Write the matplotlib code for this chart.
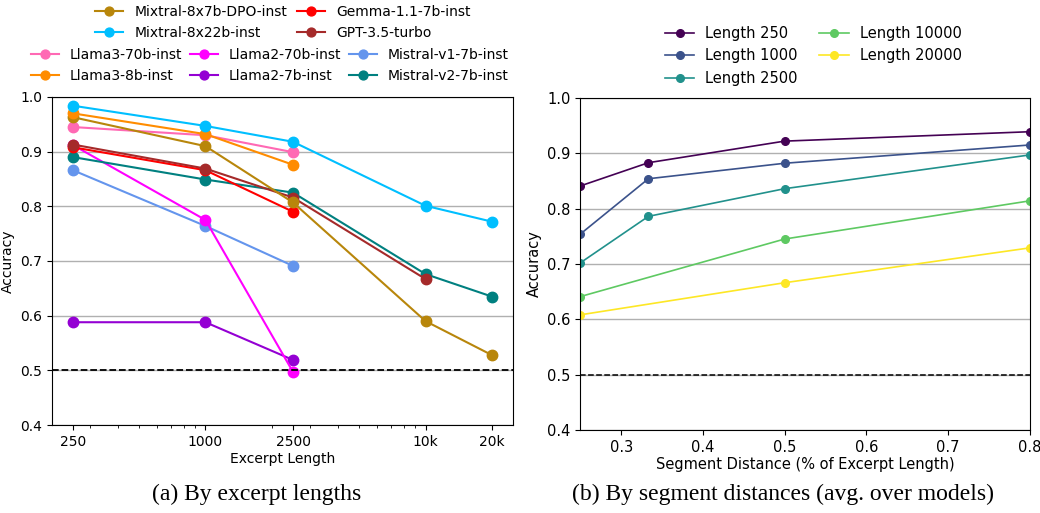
import numpy as np
import matplotlib
matplotlib.use("Agg")
from matplotlib import pyplot as plt
from matplotlib.ticker import FixedLocator, FixedFormatter

# ---- (a) accuracy by excerpt length ----
LENGTHS = [250, 1000, 2500, 10000, 20000]

MIXTRAL_7B_DPO = [0.963, 0.910, 0.807, 0.590, 0.528]
MIXTRAL_22B = [0.984, 0.947, 0.918, 0.801, 0.772]
GEMMA = [0.908, 0.866, 0.790]
GPT35 = [0.913, 0.869, 0.816, 0.667]
LLAMA3_70B = [0.945, 0.930, 0.899]
LLAMA3_8B = [0.970, 0.932, 0.876]
LLAMA2_70B = [0.912, 0.775, 0.497]
LLAMA2_7B = [0.588, 0.588, 0.519]
MISTRAL_V1 = [0.866, 0.764, 0.691]
MISTRAL_V2 = [0.890, 0.849, 0.825, 0.676, 0.635]

LEGEND_TOP = [
    ("Mixtral-8x7b-DPO-inst", MIXTRAL_7B_DPO, "darkgoldenrod"),
    ("Mixtral-8x22b-inst", MIXTRAL_22B, "deepskyblue"),
    ("Gemma-1.1-7b-inst", GEMMA, "red"),
    ("GPT-3.5-turbo", GPT35, "brown"),
]
LEGEND_BOTTOM = [
    ("Llama3-70b-inst", LLAMA3_70B, "hotpink"),
    ("Llama3-8b-inst", LLAMA3_8B, "darkorange"),
    ("Llama2-70b-inst", LLAMA2_70B, "magenta"),
    ("Llama2-7b-inst", LLAMA2_7B, "darkviolet"),
    ("Mistral-v1-7b-inst", MISTRAL_V1, "cornflowerblue"),
    ("Mistral-v2-7b-inst", MISTRAL_V2, "teal"),
]
# drawing order (later = on top)
DRAW_ORDER = ["Llama2-7b-inst", "Mistral-v1-7b-inst", "Llama2-70b-inst", "Mistral-v2-7b-inst",
              "Gemma-1.1-7b-inst", "GPT-3.5-turbo", "Llama3-70b-inst", "Mixtral-8x7b-DPO-inst",
              "Llama3-8b-inst", "Mixtral-8x22b-inst"]

# ---- (b) accuracy by segment distance ----
DIST_250 = [0.25, 1 / 3, 0.5, 0.8]
ACC_250 = [0.841, 0.883, 0.922, 0.939]
DIST_1000 = [0.25, 1 / 3, 0.5, 0.8]
ACC_1000 = [0.754, 0.854, 0.882, 0.915]
DIST_2500 = [0.25, 1 / 3, 0.5, 0.8]
ACC_2500 = [0.702, 0.786, 0.836, 0.897]
DIST_10000 = [0.25, 0.5, 0.8]
ACC_10000 = [0.641, 0.745, 0.814]
DIST_20000 = [0.25, 0.5, 0.8]
ACC_20000 = [0.608, 0.666, 0.729]

SEGMENT_SERIES = [
    ("Length 250", DIST_250, ACC_250, "#440154"),
    ("Length 1000", DIST_1000, ACC_1000, "#3b528b"),
    ("Length 2500", DIST_2500, ACC_2500, "#21918c"),
    ("Length 10000", DIST_10000, ACC_10000, "#5ec962"),
    ("Length 20000", DIST_20000, ACC_20000, "#fde725"),
]

FONT = 10
plt.rcParams.update({"font.family": "DejaVu Sans", "font.size": FONT})

fig = plt.figure(figsize=(10.4, 5.13), dpi=100)
ax1 = fig.add_axes([0.050, 0.1715, 0.443, 0.6395])
ax2 = fig.add_axes([0.558, 0.162, 0.432, 0.647])

# ---- left panel ----
all_series = {name: (vals, col) for name, vals, col in LEGEND_TOP + LEGEND_BOTTOM}
handles = {}
for name in DRAW_ORDER:
    vals, col = all_series[name]
    h, = ax1.plot(LENGTHS[:len(vals)], vals, "-o", color=col, lw=1.5, ms=7.5, label=name)
    handles[name] = h

ax1.axhline(0.5, color="black", ls="--", lw=1.3)
ax1.set_xscale("log")
ax1.set_ylim(0.4, 1.0)
ax1.xaxis.set_major_locator(FixedLocator(LENGTHS))
ax1.xaxis.set_major_formatter(FixedFormatter(["250", "1000", "2500", "10k", "20k"]))
ax1.grid(True, axis="y", color="#b0b0b0", lw=1)
ax1.set_axisbelow(True)
ax1.set_xlabel("Excerpt Length", fontsize=FONT, labelpad=2)
ax1.set_ylabel("Accuracy", fontsize=FONT)

leg_kw = dict(frameon=False, loc="center", fontsize=FONT, handlelength=2.0,
              handletextpad=0.8, markerscale=0.85)
fig.legend([handles[n] for n, _, _ in LEGEND_TOP], [n for n, _, _ in LEGEND_TOP],
           ncol=2, bbox_to_anchor=(0.272, 0.957), columnspacing=0.7, **leg_kw)
fig.legend([handles[n] for n, _, _ in LEGEND_BOTTOM], [n for n, _, _ in LEGEND_BOTTOM],
           ncol=3, bbox_to_anchor=(0.2596, 0.873), columnspacing=0.55, **leg_kw)

# ---- right panel ----
for name, xs, ys, col in SEGMENT_SERIES:
    ax2.plot(xs, ys, "-o", color=col, lw=1.2, ms=5.5, label=name)
ax2.axhline(0.5, color="black", ls="--", lw=1.1)
ax2.set_xlim(0.25, 0.8)
ax2.set_ylim(0.4, 1.0)
ax2.set_xticks([0.3, 0.4, 0.5, 0.6, 0.7, 0.8])
ax2.grid(True, axis="y", color="#b0b0b0", lw=1)
ax2.set_axisbelow(True)
ax2.tick_params(labelsize=FONT + 0.5)
ax2.set_xlabel("Segment Distance (% of Excerpt Length)", fontsize=FONT + 0.5, labelpad=2)
ax2.set_ylabel("Accuracy", fontsize=FONT + 0.5)
fig.legend(*ax2.get_legend_handles_labels(), ncol=2, frameon=False, loc="center",
           bbox_to_anchor=(0.782, 0.891), fontsize=FONT + 0.5, handlelength=2.0,
           columnspacing=1.5, handletextpad=0.75)

# captions
fig.text(0.247, 0.037, "(a) By excerpt lengths", ha="center", va="center",
         family="Liberation Serif", fontsize=17)
fig.text(0.753, 0.037, "(b) By segment distances (avg. over models)", ha="center", va="center",
         family="Liberation Serif", fontsize=17)

fig.savefig("out.png", dpi=100)
